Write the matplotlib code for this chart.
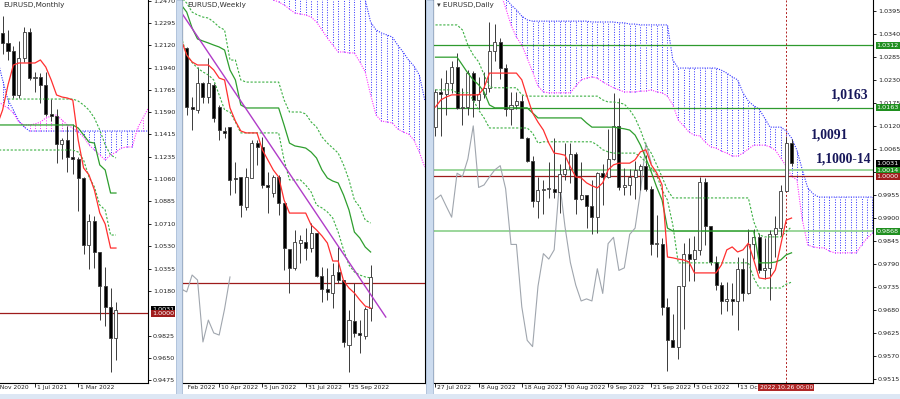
import numpy as np
import matplotlib.pyplot as plt
from matplotlib import transforms
from matplotlib.patches import Rectangle

# ---------------- EURUSD monthly: Jan 2021 .. Oct 2022 (index 0 = Jan 2021)
m_open = [1.2216, 1.2136, 1.2075, 1.1728, 1.2020, 1.2227, 1.1858, 1.1870, 1.1807, 1.1580, 1.1558,
          1.1338, 1.1370, 1.1235, 1.1218, 1.1067, 1.0544, 1.0733, 1.0484, 1.0220, 1.0054, 0.9802]
m_high = [1.2349, 1.2243, 1.2113, 1.2150, 1.2266, 1.2254, 1.1909, 1.1901, 1.1909, 1.1692, 1.1616,
          1.1386, 1.1483, 1.1495, 1.1233, 1.1076, 1.0787, 1.0774, 1.0486, 1.0368, 1.0198, 1.0094]
m_low = [1.2054, 1.2000, 1.1704, 1.1704, 1.1986, 1.1847, 1.1752, 1.1664, 1.1563, 1.1524, 1.1186,
         1.1222, 1.1121, 1.1106, 1.0806, 1.0470, 1.0349, 1.0359, 0.9952, 0.9901, 0.9535, 0.9632]
m_close = [1.2136, 1.2075, 1.1728, 1.2020, 1.2227, 1.1858, 1.1870, 1.1807, 1.1580, 1.1558, 1.1338,
           1.1370, 1.1235, 1.1218, 1.1067, 1.0544, 1.0733, 1.0484, 1.0220, 1.0054, 0.9802, 1.0031]
# indicator lines, index -1 .. 21
m_tenkan = [1.1490, 1.1608, 1.1806, 1.1964, 1.1980, 1.1980, 1.1980, 1.1980, 1.2004, 1.1948, 1.1846,
            1.1727, 1.1711, 1.1703, 1.1687, 1.1371, 1.1150, 1.1095, 1.0976, 1.0794, 1.0707, 1.0517, 1.0517]
m_kijun = [1.1490, 1.1490, 1.1490, 1.1490, 1.1490, 1.1490, 1.1490, 1.1490, 1.1490, 1.1490, 1.1490,
           1.1490, 1.1490, 1.1490, 1.1490, 1.1466, 1.1411, 1.1355, 1.1347, 1.1174, 1.1134, 1.0952, 1.0952]
m_dot1 = [np.nan, np.nan, 1.1695, 1.1695, 1.1695, 1.1695, 1.1695, 1.1695, 1.1695, 1.1695, 1.1695,
          1.1695, 1.1695, 1.1695, 1.1695, 1.1679, 1.1648, 1.1608, 1.1545, 1.1450, 1.1332, 1.1253, 1.1229]
m_dot2 = [1.1292, 1.1292, 1.1292, 1.1292, 1.1292, 1.1292, 1.1292, 1.1292, 1.1292, 1.1292, 1.1292,
          1.1292, 1.1292, 1.1292, 1.1292, 1.1276, 1.1213, 1.1079, 1.1000, 1.0857, 1.0818, 1.0620, 1.0620]
# cloud, index -1 .. 27
m_span_a = [1.2019, 1.1846, 1.1687, 1.1608, 1.1521, 1.1474, 1.1442, 1.1442, 1.1442, 1.1442, 1.1442,
            1.1442, 1.1442, 1.1442, 1.1442, 1.1442, 1.1442, 1.1442, 1.1442, 1.1442, 1.1442, 1.1442,
            1.1442, 1.1442, 1.1442, 1.1442, 1.1442, 1.1442, 1.1442]
m_span_b = [1.1687, 1.1648, 1.1624, 1.1585, 1.1513, 1.1490, 1.1490, 1.1498, 1.1513, 1.1545, 1.1561,
            1.1569, 1.1529, 1.1490, 1.1466, 1.1434, 1.1395, 1.1332, 1.1292, 1.1253, 1.1213, 1.1253,
            1.1276, 1.1308, 1.1316, 1.1316, 1.1466, 1.1545, 1.1624]
m_ticks = [1.2470, 1.2295, 1.2120, 1.1940, 1.1765, 1.1590, 1.1415, 1.1235, 1.1060, 1.0885,
           1.0710, 1.0530, 1.0355, 1.0180, 0.9825, 0.9650, 0.9475]
m_dates = ["1 Nov 2020", "1 Jul 2021", "1 Mar 2022"]
m_date_pos = [-2, 6, 14]

# ---------------- EURUSD weekly: week of 27 Feb 2022 .. 23 Oct 2022
w_open = [1.1226, 1.0918, 1.0902, 1.1043, 1.0970, 1.1033, 1.0918, 1.0793, 1.0814, 1.0548, 1.0553, 1.0397,
          1.0548, 1.0730, 1.0710, 1.0511, 1.0470, 1.0553, 1.0418, 1.0178, 1.0079, 1.0209, 1.0214, 1.0183,
          1.0261, 1.0037, 0.9969, 0.9948, 1.0058, 1.0016, 0.9677, 0.9802, 0.9740, 0.9724, 0.9870]
w_high = [1.1231, 1.0970, 1.1127, 1.1048, 1.1174, 1.1043, 1.0929, 1.0814, 1.0814, 1.0631, 1.0553, 1.0600,
          1.0746, 1.0746, 1.0762, 1.0579, 1.0564, 1.0564, 1.0418, 1.0178, 1.0277, 1.0251, 1.0287, 1.0313,
          1.0261, 1.0084, 1.0079, 1.0105, 1.0188, 1.0016, 0.9860, 1.0000, 0.9807, 0.9875, 1.0094]
w_low = [1.0876, 1.0798, 1.0887, 1.0939, 1.0939, 1.0840, 1.0746, 1.0756, 1.0459, 1.0470, 1.0345, 1.0381,
         1.0548, 1.0616, 1.0496, 1.0365, 1.0450, 1.0355, 1.0068, 0.9948, 1.0068, 1.0105, 1.0120, 1.0162,
         1.0032, 0.9901, 0.9912, 0.9870, 1.0000, 0.9667, 0.9536, 0.9719, 0.9635, 0.9708, 0.9800]
w_close = [1.0918, 1.0908, 1.1043, 1.0970, 1.1043, 1.0861, 1.0798, 1.0783, 1.0537, 1.0543, 1.0407, 1.0553,
           1.0730, 1.0710, 1.0511, 1.0501, 1.0553, 1.0418, 1.0183, 1.0079, 1.0214, 1.0225, 1.0183, 1.0261,
           1.0037, 0.9969, 0.9954, 1.0042, 1.0016, 0.9693, 0.9807, 0.9740, 0.9729, 0.9865, 1.0032]
# indicator lines, index -1 .. 34
w_tenkan = [1.1267, 1.1189, 1.1153, 1.1137, 1.1137, 1.1137, 1.1111, 1.1069, 1.1059, 1.0913, 1.0845, 1.0793,
            1.0783, 1.0783, 1.0783, 1.0694, 1.0642, 1.0590, 1.0553, 1.0433, 1.0365, 1.0365, 1.0365, 1.0365,
            1.0303, 1.0277, 1.0246, 1.0209, 1.0115, 1.0115, 1.0011, 0.9974, 0.9948, 0.9912, 0.9880, 0.9870]
w_kijun = [1.1450, 1.1413, 1.1330, 1.1273, 1.1262, 1.1252, 1.1241, 1.1231, 1.1215, 1.1111, 1.1059, 1.0929,
           1.0913, 1.0913, 1.0913, 1.0913, 1.0913, 1.0913, 1.0913, 1.0824, 1.0730, 1.0715, 1.0710, 1.0704,
           1.0683, 1.0652, 1.0590, 1.0548, 1.0532, 1.0522, 1.0459, 1.0381, 1.0266, 1.0235, 1.0188, 1.0162]
w_dot1 = [1.1490, 1.1460, 1.1413, 1.1398, 1.1387, 1.1382, 1.1361, 1.1335, 1.1320, 1.1163, 1.1163, 1.1059,
          1.1048, 1.1048, 1.1048, 1.1048, 1.1048, 1.1048, 1.1048, 1.0955, 1.0892, 1.0892, 1.0892, 1.0882,
          1.0840, 1.0814, 1.0762, 1.0730, 1.0704, 1.0678, 1.0616, 1.0538, 1.0433, 1.0397, 1.0329, 1.0313]
w_dot2 = [1.1283, 1.1190, 1.1150, 1.1121, 1.1101, 1.1085, 1.1059, 1.0981, 1.0903, 1.0892, 1.0840, 1.0783,
          1.0783, 1.0783, 1.0783, 1.0783, 1.0783, 1.0783, 1.0783, 1.0642, 1.0538, 1.0538, 1.0538, 1.0511,
          1.0475, 1.0407, 1.0392, 1.0371, 1.0339, 1.0266, 1.0173, 1.0094, 1.0058, 1.0042, 1.0032, 1.0027]
# cloud, index 14 .. 44
w_span_a = [1.1789, 1.1789, 1.1789, 1.1789, 1.1789, 1.1789, 1.1789, 1.1789, 1.1789, 1.1789, 1.1789,
            1.1789, 1.1789, 1.1789, 1.1789, 1.1789, 1.1789, 1.1632, 1.1554, 1.1476, 1.1361, 1.1320,
            1.1304, 1.1294, 1.1283, 1.1241, 1.1205, 1.1163, 1.1132, 1.1085, 1.0955]
w_span_b = [1.1502, 1.1492, 1.1476, 1.1466, 1.1450, 1.1429, 1.1408, 1.1403, 1.1398, 1.1387, 1.1361,
            1.1320, 1.1278, 1.1241, 1.1205, 1.1205, 1.1200, 1.1200, 1.1153, 1.1101, 1.0981, 1.0876,
            1.0845, 1.0840, 1.0835, 1.0804, 1.0788, 1.0777, 1.0746, 1.0683, 1.0605]
w_trend_pos = [-0.68, 36.8]
w_trend = [1.1398, 0.9823]
w_dates = ["13 Feb 2022", "10 Apr 2022", "5 Jun 2022", "31 Jul 2022", "25 Sep 2022"]
w_date_pos = [-2, 6, 14, 22, 30]

# ---------------- EURUSD daily: 27 Jul 2022 .. 27 Oct 2022
d_open = [1.0118, 1.0200, 1.0197, 1.0222, 1.0261, 1.0162, 1.0166, 1.0247, 1.0182, 1.0197, 1.0211, 1.0298,
          1.0320, 1.0258, 1.0160, 1.0170, 1.0180, 1.0090, 1.0037, 0.9940, 0.9967, 0.9970, 0.9970, 0.9963,
          1.0006, 1.0016, 1.0054, 0.9945, 0.9955, 0.9928, 0.9902, 1.0007, 0.9999, 1.0041, 1.0120, 0.9973,
          0.9979, 0.9998, 1.0015, 1.0025, 0.9970, 0.9837, 0.9837, 0.9688, 0.9608, 0.9593, 0.9737, 0.9815,
          0.9802, 0.9824, 0.9987, 0.9880, 0.9794, 0.9740, 0.9702, 0.9707, 0.9702, 0.9779, 0.9720, 0.9839,
          0.9854, 0.9775, 0.9781, 0.9861, 0.9876, 0.9964, 1.0079]
d_high = [1.0208, 1.0234, 1.0254, 1.0274, 1.0294, 1.0211, 1.0254, 1.0250, 1.0236, 1.0249, 1.0368, 1.0363,
          1.0330, 1.0268, 1.0201, 1.0201, 1.0193, 1.0094, 1.0047, 0.9999, 0.9990, 1.0034, 1.0090, 1.0028,
          1.0080, 1.0079, 1.0057, 1.0033, 0.9955, 0.9990, 1.0010, 1.0029, 1.0113, 1.0198, 1.0187, 1.0019,
          1.0017, 1.0037, 1.0029, 1.0050, 0.9976, 0.9907, 0.9852, 0.9709, 0.9670, 0.9737, 0.9840, 0.9853,
          0.9856, 0.9999, 0.9996, 0.9880, 0.9810, 0.9748, 0.9748, 0.9745, 0.9808, 0.9804, 0.9874, 0.9875,
          0.9865, 0.9852, 0.9871, 0.9904, 0.9978, 1.0094, 1.0089]
d_low = [1.0096, 1.0097, 1.0145, 1.0199, 1.0160, 1.0122, 1.0145, 1.0141, 1.0160, 1.0186, 1.0202, 1.0274,
         1.0231, 1.0144, 1.0123, 1.0160, 1.0090, 1.0033, 0.9926, 0.9901, 0.9910, 0.9948, 0.9947, 0.9913,
         0.9990, 0.9983, 0.9910, 0.9943, 0.9876, 0.9863, 0.9864, 0.9930, 0.9995, 1.0039, 0.9966, 0.9955,
         0.9956, 0.9945, 0.9967, 0.9965, 0.9812, 0.9807, 0.9668, 0.9536, 0.9592, 0.9563, 0.9634, 0.9749,
         0.9749, 0.9811, 0.9835, 0.9789, 0.9728, 0.9670, 0.9677, 0.9669, 0.9632, 0.9703, 0.9718, 0.9802,
         0.9768, 0.9755, 0.9705, 0.9807, 0.9856, 0.9964, 1.0025]
d_close = [1.0200, 1.0197, 1.0222, 1.0261, 1.0162, 1.0166, 1.0247, 1.0182, 1.0197, 1.0211, 1.0298, 1.0320,
           1.0258, 1.0160, 1.0170, 1.0180, 1.0090, 1.0037, 0.9940, 0.9967, 0.9970, 0.9970, 0.9963, 1.0006,
           1.0016, 1.0054, 0.9945, 0.9955, 0.9928, 0.9902, 1.0007, 0.9999, 1.0041, 1.0120, 0.9973, 0.9979,
           0.9998, 1.0015, 1.0025, 0.9970, 0.9837, 0.9837, 0.9688, 0.9608, 0.9593, 0.9737, 0.9815, 0.9802,
           0.9824, 0.9987, 0.9880, 0.9794, 0.9740, 0.9702, 0.9707, 0.9702, 0.9779, 0.9720, 0.9839, 0.9854,
           0.9775, 0.9781, 0.9861, 0.9876, 0.9964, 1.0079, 1.0031]
d_tenkan = [1.0165, 1.0182, 1.0189, 1.0194, 1.0194, 1.0194, 1.0194, 1.0194, 1.0194, 1.0211, 1.0246, 1.0246,
            1.0246, 1.0246, 1.0246, 1.0246, 1.0230, 1.0189, 1.0151, 1.0129, 1.0110, 1.0079, 1.0055, 1.0053,
            1.0050, 1.0022, 0.9998, 0.9996, 0.9984, 0.9977, 0.9972, 0.9984, 1.0015, 1.0027, 1.0031, 1.0031,
            1.0031, 1.0039, 1.0058, 1.0063, 1.0027, 1.0008, 0.9979, 0.9807, 0.9805, 0.9802, 0.9800, 0.9795,
            0.9769, 0.9769, 0.9769, 0.9769, 0.9769, 0.9788, 0.9824, 0.9831, 0.9819, 0.9824, 0.9840, 0.9800,
            0.9757, 0.9755, 0.9757, 0.9776, 0.9836, 0.9895, 0.9900]
d_kijun = [1.0284, 1.0284, 1.0284, 1.0284, 1.0284, 1.0265, 1.0246, 1.0230, 1.0218, 1.0201, 1.0170, 1.0163,
           1.0163, 1.0163, 1.0163, 1.0163, 1.0163, 1.0163, 1.0151, 1.0139, 1.0139, 1.0139, 1.0139, 1.0139,
           1.0139, 1.0139, 1.0139, 1.0139, 1.0127, 1.0117, 1.0117, 1.0117, 1.0117, 1.0117, 1.0115, 1.0113,
           1.0110, 1.0098, 1.0074, 1.0043, 1.0010, 0.9974, 0.9943, 0.9876, 0.9869, 0.9869, 0.9869, 0.9869,
           0.9869, 0.9869, 0.9869, 0.9869, 0.9869, 0.9869, 0.9869, 0.9869, 0.9869, 0.9869, 0.9869, 0.9869,
           0.9793, 0.9793, 0.9793, 0.9795, 0.9800, 0.9812, 0.9817]
d_dot1 = [1.0361, 1.0361, 1.0361, 1.0361, 1.0361, 1.0349, 1.0313, 1.0289, 1.0273, 1.0242, 1.0213, 1.0211,
          1.0211, 1.0211, 1.0211, 1.0211, 1.0194, 1.0191, 1.0191, 1.0191, 1.0191, 1.0191, 1.0191, 1.0191,
          1.0191, 1.0191, 1.0191, 1.0191, 1.0191, 1.0191, 1.0191, 1.0182, 1.0177, 1.0177, 1.0175, 1.0172,
          1.0158, 1.0139, 1.0110, 1.0074, 1.0055, 1.0027, 0.9998, 0.9967, 0.9948, 0.9948, 0.9948, 0.9948,
          0.9948, 0.9948, 0.9948, 0.9948, 0.9948, 0.9948, 0.9948, 0.9948, 0.9948, 0.9948, 0.9948, 0.9891,
          0.9860, 0.9855, 0.9855, 0.9855, 0.9855, 0.9867, 0.9879]
d_dot2 = [1.0206, 1.0206, 1.0206, 1.0206, 1.0199, 1.0199, 1.0199, 1.0182, 1.0158, 1.0139, 1.0115, 1.0115,
          1.0115, 1.0115, 1.0115, 1.0115, 1.0115, 1.0115, 1.0103, 1.0079, 1.0082, 1.0082, 1.0082, 1.0082,
          1.0082, 1.0082, 1.0082, 1.0082, 1.0082, 1.0082, 1.0074, 1.0063, 1.0058, 1.0055, 1.0055, 1.0055,
          1.0055, 1.0055, 1.0046, 1.0034, 1.0019, 1.0003, 0.9967, 0.9943, 0.9883, 0.9793, 0.9793, 0.9793,
          0.9793, 0.9793, 0.9793, 0.9793, 0.9793, 0.9793, 0.9793, 0.9793, 0.9793, 0.9793, 0.9793, 0.9757,
          0.9733, 0.9733, 0.9733, 0.9733, 0.9733, 0.9742, 0.9747]
# cloud, index 12 .. 81
d_span_a = [1.0444, 1.0425, 1.0409, 1.0397, 1.0382, 1.0373, 1.0370, 1.0370, 1.0370, 1.0370, 1.0370,
            1.0370, 1.0370, 1.0370, 1.0370, 1.0370, 1.0370, 1.0368, 1.0368, 1.0368, 1.0368, 1.0368,
            1.0366, 1.0366, 1.0363, 1.0363, 1.0361, 1.0361, 1.0361, 1.0361, 1.0361, 1.0361, 1.0277,
            1.0258, 1.0258, 1.0258, 1.0258, 1.0258, 1.0258, 1.0258, 1.0258, 1.0253, 1.0246, 1.0237,
            1.0230, 1.0199, 1.0179, 1.0168, 1.0160, 1.0139, 1.0117, 1.0117, 1.0117, 1.0108, 1.0091,
            1.0062, 1.0015, 0.9972, 0.9958, 0.9950, 0.9950, 0.9950, 0.9950, 0.9950, 0.9950, 0.9950,
            0.9950, 0.9950, 0.9950, 0.9950]
d_span_b = [1.0440, 1.0402, 1.0361, 1.0332, 1.0313, 1.0282, 1.0249, 1.0215, 1.0201, 1.0199, 1.0199,
            1.0199, 1.0199, 1.0199, 1.0215, 1.0230, 1.0234, 1.0237, 1.0234, 1.0225, 1.0218, 1.0211,
            1.0206, 1.0201, 1.0201, 1.0201, 1.0203, 1.0203, 1.0206, 1.0201, 1.0199, 1.0191, 1.0170,
            1.0134, 1.0120, 1.0105, 1.0098, 1.0096, 1.0081, 1.0070, 1.0067, 1.0060, 1.0055, 1.0048,
            1.0048, 1.0055, 1.0065, 1.0074, 1.0074, 1.0074, 1.0070, 1.0062, 1.0043, 1.0024, 1.0000,
            0.9991, 0.9895, 0.9836, 0.9831, 0.9829, 0.9829, 0.9821, 0.9817, 0.9817, 0.9817, 0.9817,
            0.9817, 0.9836, 0.9852, 0.9864]
d_ticks = [1.0395, 1.0340, 1.0285, 1.0230, 1.0175, 1.0120, 1.0065, 1.0010, 0.9955, 0.9900,
           0.9845, 0.9790, 0.9735, 0.9680, 0.9625, 0.9570, 0.9515]
d_boxes = [1.0312, 1.0163, 1.0031, 1.0014, 1.0000, 0.9868]
d_box_colors = ["#1f8f1f", "#1f8f1f", "#000000", "#1f8f1f", "#a01c1c", "#1f8f1f"]
d_dates = ["27 Jul 2022", "8 Aug 2022", "18 Aug 2022", "30 Aug 2022", "9 Sep 2022",
           "21 Sep 2022", "3 Oct 2022", "13 Oct 2022"]
d_date_pos = [0, 8, 16, 24, 32, 40, 48, 56]
notes = ["1,0163", "1,0091", "1,1000-14"]
note_pos = [(76.7, 1.0194), (73.1, 1.0097), (75.6, 1.0041)]

RED = "#ff2f2f"
KIJUN = "#2e9e2e"
DOTG = "#3cb043"
BLUE = "#3030ff"
MAG = "#ff30ff"
CHIKOU = "#a0a6ae"
WICK = "#3a3a3a"
LVL_RED = "#9e1b1b"
LVL_GREEN = "#2e9a2e"
PALE = "#93d393"
FS = 4.6       # price labels
FS_DATE = 4.3  # time labels

fig = plt.figure(figsize=(9, 3.99), dpi=100)
bot = 16 / 399
hgt = 383 / 399
ax1 = fig.add_axes([0, bot, 148 / 900, hgt])
ax2 = fig.add_axes([182 / 900, bot, 243 / 900, hgt])
ax3 = fig.add_axes([433 / 900, bot, 440 / 900, hgt])


def candles(ax, o, h, l, c, tiny):
    x = np.arange(len(o))
    o, h, l, c = (np.asarray(v) for v in (o, h, l, c))
    ax.vlines(x, l, h, color=WICK, lw=0.7, zorder=3)
    body = np.maximum(np.abs(c - o), tiny)
    fc = np.where(c >= o, "white", "black")
    ax.bar(x, body, bottom=np.minimum(o, c), width=0.56, color=fc,
           edgecolor=WICK, linewidth=0.6, zorder=4)


def cloud(ax, start, a, b):
    x = np.arange(start, start + len(a))
    a, b = np.asarray(a), np.asarray(b)
    cols = np.where(a >= b, BLUE, MAG)
    ax.vlines(x, np.minimum(a, b), np.maximum(a, b), colors=cols,
              linestyles=(0, (1, 1.6)), lw=0.7, zorder=1)
    ax.plot(x, a, color=BLUE, ls=(0, (1, 1.2)), lw=0.8, zorder=1)
    ax.plot(x, b, color=MAG, ls=(0, (1, 1.2)), lw=0.8, zorder=1)


def lines(ax, start, tenkan, kijun, dot1, dot2):
    x = np.arange(start, start + len(tenkan))
    ax.plot(x, dot1, color=DOTG, ls=(0, (2, 1.5)), lw=0.8, zorder=5)
    ax.plot(x, dot2, color=DOTG, ls=(0, (2, 1.5)), lw=0.8, zorder=5)
    ax.plot(x, kijun, color=KIJUN, lw=0.9, zorder=5)
    ax.plot(x, tenkan, color=RED, lw=0.9, zorder=5)


def frame(ax, xlim, ylim, left=True):
    ax.set_xlim(xlim)
    ax.set_ylim(ylim)
    for s in ax.spines.values():
        s.set_linewidth(0.8)
    ax.spines["top"].set_visible(False)
    ax.spines["left"].set_visible(left)


def dates(ax, pos, labels, clip_left=0.0):
    lo, hi = ax.get_xlim()
    ax.set_xticks([p for p in pos if lo <= p <= hi])
    ax.tick_params(axis="x", length=3, width=0.6, labelbottom=False)
    tr = transforms.offset_copy(transforms.blended_transform_factory(ax.transData, ax.transAxes),
                                fig=fig, x=2, y=-2, units="dots")
    clip = transforms.TransformedBbox(transforms.Bbox([[clip_left, -0.1], [1.5, 1]]), ax.transAxes)
    for p, s in zip(pos, labels):
        t = ax.text(p, 0, s, transform=tr, ha="left", va="top", fontsize=FS_DATE, color="#202020")
        t.set_clip_box(clip)
        t.set_clip_on(True)


def prices(ax, ticks):
    ax.yaxis.tick_right()
    ax.set_yticks(ticks)
    ax.set_yticklabels([f"{t:.4f}" for t in ticks])
    ax.tick_params(axis="y", length=2, width=0.6, pad=1.5, labelsize=FS, labelcolor="#202020")


def price_box(ax, price, color):
    tr = transforms.offset_copy(transforms.blended_transform_factory(ax.transAxes, ax.transData),
                                fig=fig, x=4, y=0, units="dots")
    ax.text(0.999, price, f"{price:.4f}", transform=tr, ha="left", va="center", fontsize=FS,
            color="white", clip_on=False, zorder=8,
            bbox=dict(boxstyle="square,pad=0.15", fc=color, ec="none"))


def title(ax, s, x):
    ax.text(x, 0.987, s, transform=ax.transAxes, ha="left", va="center", fontsize=5.2, color="#303030")


# ---- monthly
frame(ax1, (-0.48, 26.93), (0.9450, 1.2478), left=False)
cloud(ax1, -1, m_span_a, m_span_b)
ax1.axhline(1.0000, color=LVL_RED, lw=0.9, zorder=2)
candles(ax1, m_open, m_high, m_low, m_close, 0.0008)
lines(ax1, -1, m_tenkan, m_kijun, m_dot1, m_dot2)
prices(ax1, m_ticks)
price_box(ax1, 1.0031, "#000000")
price_box(ax1, 1.0000, "#a01c1c")
dates(ax1, m_date_pos, m_dates)
title(ax1, "EURUSD,Monthly", 0.02)

# ---- weekly
frame(ax2, (-0.87, 44.05), (0.9479, 1.1476))
cloud(ax2, 14, w_span_a, w_span_b)
ax2.axhline(1.0000, color=LVL_RED, lw=0.9, zorder=2)
ax2.plot(np.arange(25, 35) - 26, w_close[25:35], color=CHIKOU, lw=0.8, zorder=2)
candles(ax2, w_open, w_high, w_low, w_close, 0.0005)
lines(ax2, -1, w_tenkan, w_kijun, w_dot1, w_dot2)
ax2.plot(w_trend_pos, w_trend, color="#b03cc8", lw=1.0, zorder=6)
ax2.set_yticks([])
dates(ax2, w_date_pos, w_dates, clip_left=0.016)
title(ax2, "EURUSD,Weekly", 0.02)

# ---- daily
frame(ax3, (-0.46, 81.1), (0.95062, 1.04205))
cloud(ax3, 12, d_span_a, d_span_b)
ax3.axhline(1.0312, color=LVL_GREEN, lw=0.9, zorder=2)
ax3.axhline(1.0163, color=LVL_GREEN, lw=0.9, zorder=2)
ax3.axhline(1.0014, color=PALE, lw=1.3, zorder=2)
ax3.axhline(1.0000, color=LVL_RED, lw=0.9, zorder=2)
ax3.axhline(0.9868, color=PALE, lw=1.3, zorder=2)
ax3.plot(np.arange(26, 67) - 26, d_close[26:67], color=CHIKOU, lw=0.8, zorder=2)
candles(ax3, d_open, d_high, d_low, d_close, 0.00025)
lines(ax3, 0, d_tenkan, d_kijun, d_dot1, d_dot2)
ax3.axvline(65, color="#b02020", ls=(0, (2, 2)), lw=0.7, zorder=2)
prices(ax3, d_ticks)
for p, col in zip(d_boxes, d_box_colors):
    price_box(ax3, p, col)
dates(ax3, d_date_pos, d_dates)
tr = transforms.offset_copy(transforms.blended_transform_factory(ax3.transData, ax3.transAxes),
                            fig=fig, x=0, y=-2, units="dots")
ax3.text(65, 0, "2022.10.26 00:00", transform=tr, ha="center", va="top", fontsize=FS_DATE, color="white",
         clip_on=False, zorder=9, bbox=dict(boxstyle="square,pad=0.2", fc="#b02828", ec="none"))
for s, (px, py) in zip(notes, note_pos):
    ax3.text(px, py, s, ha="center", va="center", fontsize=9.8, fontweight="bold",
             family="Liberation Serif", color="#16165a", zorder=9)
title(ax3, "\u25be EURUSD,Daily", 0.009)

# window frame strips between the three charts
for x0, w in [(176, 6), (426, 7)]:
    fig.add_artist(Rectangle((x0 / 900, 0), w / 900, 1, transform=fig.transFigure,
                             fc="#cddcef", ec="#a9bdd8", lw=0.6, zorder=10))
fig.add_artist(Rectangle((0, 0), 1, 5 / 399, transform=fig.transFigure,
                         fc="#dde7f4", ec="none", zorder=10))

fig.savefig("out.png", dpi=100)
